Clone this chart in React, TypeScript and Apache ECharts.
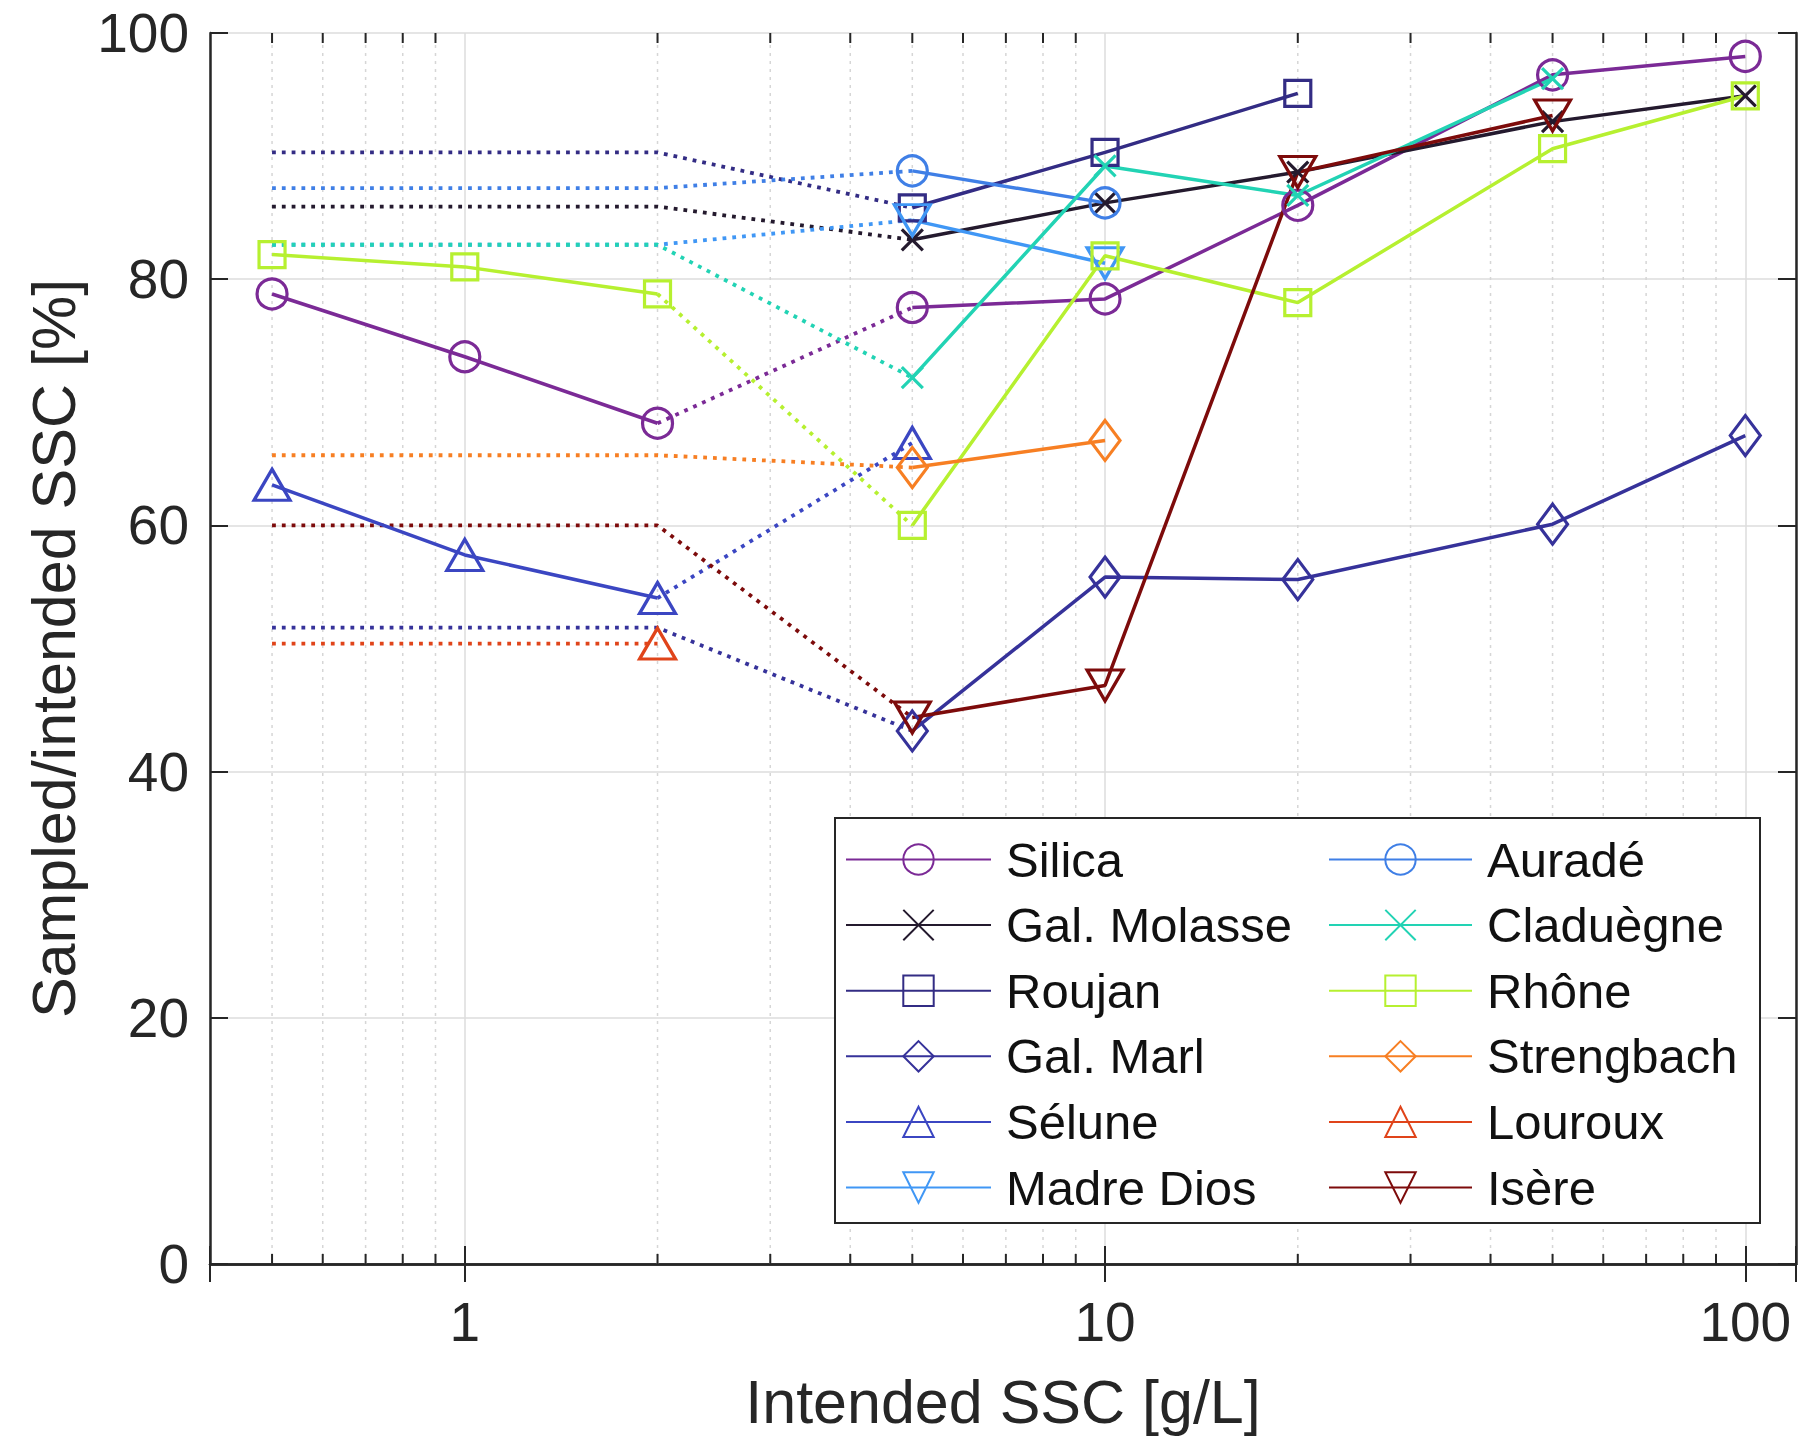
import React, { useEffect, useRef } from 'react';
import * as echarts from 'echarts';

// Intended SSC [g/L]
const X = [0.5, 1, 2, 5, 10, 20, 50, 100];

const NAMES = ['Silica', 'Gal. Molasse', 'Roujan', 'Gal. Marl', 'Sélune', 'Madre Dios',
  'Auradé', 'Claduègne', 'Rhône', 'Strengbach', 'Louroux', 'Isère'];

const COLORS = ['#7b2a96', '#241a2e', '#332c84', '#36329a', '#3b46c2', '#4097f5',
  '#3f7fe6', '#22d3b4', '#b6f030', '#f77f23', '#e0441a', '#7d0b0b'];

// Sampled/intended SSC [%] at each X (null = not measured)
const silica = [78.8, 73.7, 68.3, 77.7, 78.4, 86.0, 96.6, 98.1];
const galMolasse = [null, null, null, 83.2, 86.2, 88.7, 92.8, 94.9];
const roujan = [null, null, null, 85.8, 90.3, 95.1, null, null];
const galMarl = [null, null, null, 43.3, 55.8, 55.6, 60.1, 67.3];
const selune = [63.3, 57.6, 54.1, 66.7, null, null, null, null];
const madreDios = [null, null, null, 84.8, 81.3, null, null, null];
const aurade = [null, null, null, 88.8, 86.2, null, null, null];
const claduegne = [null, null, null, 72.0, 89.2, 86.8, 96.3, null];
const rhone = [82.0, 81.0, 78.8, 60.0, 81.9, 78.1, 90.6, 94.9];
const strengbach = [null, null, null, 64.7, 66.9, null, null, null];
const louroux = [null, null, 50.4, null, null, null, null, null];
const isere = [null, null, null, 44.4, 47.0, 88.7, 93.3, null];

const VALUES = [silica, galMolasse, roujan, galMarl, selune, madreDios,
  aurade, claduegne, rhone, strengbach, louroux, isere];

// Dotted low-concentration levels (0.5 to 2 g/L)
const PLATEAU = [null, 85.9, 90.3, 51.7, null, 82.8, 87.4, 82.8, null, 65.7, 50.4, 60.0];

// Minor grid positions of the log axis
const MINOR_X = [0.5, 0.6, 0.7, 0.8, 0.9, 2, 3, 4, 5, 6, 7, 8, 9, 20, 30, 40, 50, 60, 70, 80, 90];

const Y_TICK_INTERVAL = 20;

const SYM_X = 'path://M0,0L10,10M10,0L0,10';
const SYM_TRIDOWN = 'path://M0,0L10,0L5,8.66Z';
const SYMBOLS = ['circle', SYM_X, 'rect', 'diamond', 'triangle', SYM_TRIDOWN,
  'circle', SYM_X, 'rect', 'diamond', 'triangle', SYM_TRIDOWN];
const SYMBOL_SIZES: any[] = [30, 21, 26, [30, 40], [36, 31], [36, 31],
  30, 21, 26, [30, 40], [36, 31], [36, 31]];

const FONT = '"Liberation Sans", Arial, Helvetica, sans-serif';
const AXIS = '#262626';

function solidData(vals: (number | null)[]) {
  const out: any[] = [];
  X.forEach((x, i) => {
    if (x === 5) out.push([3, null]); // the 2 -> 5 link is dotted
    out.push([x, vals[i] == null ? null : vals[i]]);
  });
  return out;
}

function dottedData(i: number) {
  const vals = VALUES[i];
  const p = PLATEAU[i];
  const v2 = vals[2];
  const v5 = vals[3];
  const out: any[] = [];
  if (p != null) {
    out.push([0.5, p], [2, p]);
    if (v5 != null) out.push([5, v5]);
  } else if (v2 != null && v5 != null) {
    out.push([2, v2], [5, v5]);
  }
  return out;
}

const fmtX = (v: number) => {
  const r = Math.round(v * 100) / 100;
  return r === 1 || r === 10 || r === 100 ? String(r) : '';
};

export default function App() {
  const ref = useRef<HTMLDivElement>(null);
  useEffect(() => {
    document.body.style.margin = '0';
    const chart = echarts.init(ref.current!, null, { renderer: 'svg' });

    const dotted = NAMES.map((n, i) => ({
      name: n + ' (dotted)',
      type: 'line',
      data: dottedData(i),
      symbol: 'none',
      silent: true,
      z: 2,
      lineStyle: { color: COLORS[i], width: 3.8, type: [3.8, 6] },
    }));

    const solid = NAMES.map((n, i) => ({
      name: n,
      type: 'line',
      data: solidData(VALUES[i]),
      connectNulls: false,
      symbol: SYMBOLS[i],
      symbolSize: SYMBOL_SIZES[i],
      showAllSymbol: true,
      z: 3,
      lineStyle: { color: COLORS[i], width: 3.5 },
      itemStyle: { color: 'rgba(0,0,0,0)', borderColor: COLORS[i], borderWidth: 3.2 },
      emphasis: { disabled: true },
    }));

    const minorGrid = {
      type: 'custom',
      name: 'minor',
      silent: true,
      z: 1,
      data: MINOR_X.map((v) => [v, 0]),
      encode: { x: 0, y: 1 },
      renderItem: (params: any, api: any) => {
        const x = api.value(0);
        const b = api.coord([x, 0]);
        const t = api.coord([x, 100]);
        const tick = { stroke: AXIS, lineWidth: 2 };
        return {
          type: 'group',
          children: [
            { type: 'line', shape: { x1: b[0], y1: b[1], x2: t[0], y2: t[1] },
              style: { stroke: '#d6d6d6', lineWidth: 1.5, lineDash: [3, 5] } },
            { type: 'line', shape: { x1: b[0], y1: b[1], x2: b[0], y2: b[1] - 10 }, style: tick },
            { type: 'line', shape: { x1: t[0], y1: t[1], x2: t[0], y2: t[1] + 10 }, style: tick },
          ],
        };
      },
    };

    const legendCommon = {
      orient: 'vertical',
      top: 830,
      itemHeight: 38,
      itemGap: 16.6,
      selectedMode: false,
      z: 20,
      textStyle: { fontSize: 49, color: '#111', fontFamily: FONT, lineHeight: 38, padding: [0, 0, 0, 10] },
    };

    const xCommon = {
      type: 'log',
      logBase: 10,
      min: 0.4,
      max: 120,
      axisLine: { show: true, lineStyle: { color: AXIS, width: 2.5 } },
      axisTick: { show: true, inside: true, length: 18, lineStyle: { color: AXIS, width: 2 } },
    };
    const yCommon = {
      type: 'value',
      min: 0,
      max: 100,
      interval: Y_TICK_INTERVAL,
      axisLine: { show: true, lineStyle: { color: AXIS, width: 2.5 } },
      axisTick: { show: true, inside: true, length: 18, lineStyle: { color: AXIS, width: 2 } },
    };

    chart.setOption({
      animation: false,
      backgroundColor: '#ffffff',
      textStyle: { fontFamily: FONT },
      grid: { left: 210, right: 1, top: 33, bottom: 175 },
      xAxis: [
        {
          ...xCommon,
          position: 'bottom',
          name: 'Intended SSC [g/L]',
          nameLocation: 'middle',
          nameGap: 107,
          nameTextStyle: { fontSize: 61, color: AXIS, fontFamily: FONT },
          axisLabel: { show: true, fontSize: 55, color: AXIS, margin: 30, fontFamily: FONT, formatter: fmtX },
          splitLine: { show: true, lineStyle: { color: '#dcdcdc', width: 1.5 } },
        },
        {
          ...xCommon,
          position: 'top',
          axisLabel: { show: false },
          splitLine: { show: false },
        },
      ],
      yAxis: [
        {
          ...yCommon,
          position: 'left',
          name: 'Sampled/intended SSC [%]',
          nameLocation: 'middle',
          nameGap: 126,
          nameRotate: 90,
          nameTextStyle: { fontSize: 61, color: AXIS, fontFamily: FONT },
          axisLabel: { show: true, fontSize: 55, color: AXIS, margin: 21, fontFamily: FONT },
          splitLine: { show: true, lineStyle: { color: '#dcdcdc', width: 1.5 } },
        },
        {
          ...yCommon,
          position: 'right',
          axisLabel: { show: false },
          splitLine: { show: false },
        },
      ],
      legend: [
        { ...legendCommon, left: 840, itemWidth: 145, data: NAMES.slice(0, 6) },
        { ...legendCommon, left: 1323, itemWidth: 143, data: NAMES.slice(6) },
      ],
      graphic: [
        {
          type: 'rect',
          z: 10,
          shape: { x: 835, y: 818, width: 925, height: 405 },
          style: { fill: '#ffffff', stroke: AXIS, lineWidth: 2 },
        },
      ],
      series: [minorGrid, ...dotted, ...solid],
    });
    return () => chart.dispose();
  }, []);
  return <div ref={ref} style={{ width: 1799, height: 1439 }} />;
}
